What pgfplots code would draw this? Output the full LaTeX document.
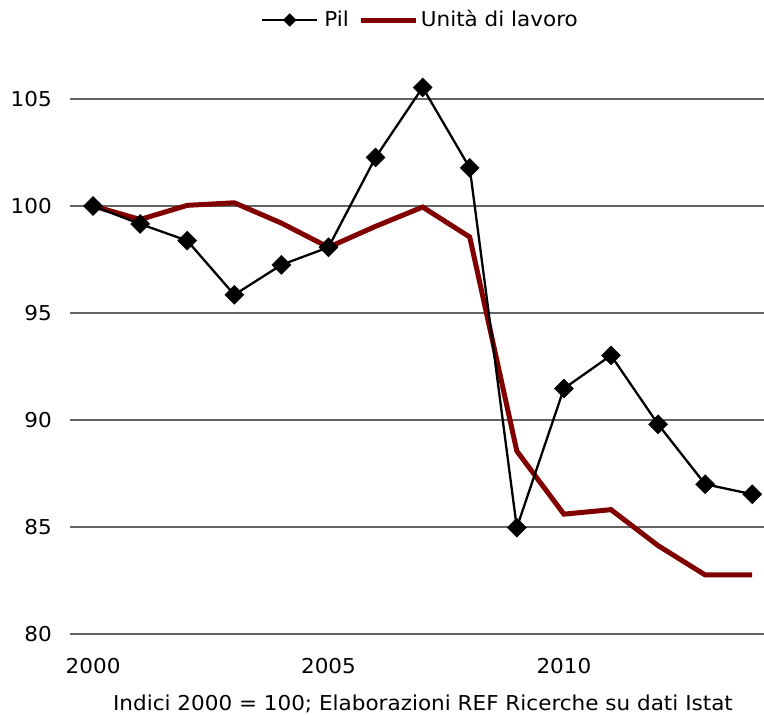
\documentclass[border=0pt]{standalone}
\usepackage{fontspec}
\setmainfont{DejaVu Sans}[FakeStretch=1.05]
\usepackage{pgfplots}
\pgfplotsset{compat=1.18}
\definecolor{lavoro}{RGB}{128,0,0}
\definecolor{gridc}{RGB}{100,100,100}
\begin{document}
\fontsize{20.5}{24}\selectfont
\begin{tikzpicture}
\useasboundingbox (0,0) rectangle (764pt,715pt);
\begin{axis}[
  at={(70pt,81pt)}, anchor=south west,
  scale only axis, width=694pt, height=588.5pt,
  xmin=1999.51, xmax=2014.25, ymin=80, ymax=107.5,
  axis line style={draw=none},
  major tick length=0pt,
  xtick={2000,2005,2010}, xticklabels={2000,2005,2010},
  ytick={80,85,90,95,100,105},
  ymajorgrids, grid style={gridc, line width=1.2pt},
  /pgf/number format/assume math mode=true,
  tick label style={font=\fontsize{20.5}{24}\selectfont},
  x tick label style={anchor=north, inner sep=0pt, yshift=-24.5pt},
  y tick label style={anchor=east, inner sep=0pt, xshift=-18pt},
  legend columns=2, reverse legend,
  legend style={at={(axis description cs:0.5036,1.0433)}, anchor=center, draw=none, fill=none, inner sep=0pt, nodes={inner sep=0pt}, font=\fontsize{20.5}{24}\selectfont},
  legend image code/.code={\draw[mark repeat=2,mark phase=2,#1,mark size=4.5pt] plot coordinates {(0pt,0pt) (27.5pt,0pt) (55pt,0pt)};},
]
\addplot[lavoro, line width=5pt] coordinates {
(2000,100) (2001,99.37) (2002,100.03) (2003,100.15) (2004,99.2) (2005,98.07) (2006,99.05) (2007,99.95) (2008,98.55) (2009,88.55) (2010,85.6) (2011,85.81) (2012,84.13) (2013,82.76) (2014,82.76)};
\addlegendentry{\hspace*{2pt}Unità di lavoro}
\addplot[black, line width=2.3pt, mark=square*, mark size=6.7pt, mark options={rotate=45, solid, fill=black, line width=0.5pt}] coordinates {
(2000,100) (2001,99.16) (2002,98.38) (2003,95.85) (2004,97.25) (2005,98.07) (2006,102.27) (2007,105.54) (2008,101.78) (2009,84.97) (2010,91.47) (2011,93.02) (2012,89.8) (2013,87.0) (2014,86.53)};
\addlegendentry{\hspace*{6pt}Pil\hspace*{10pt}}
\end{axis}
\node[anchor=base, inner sep=0pt] at (423pt,4.5pt) {Indici 2000 = 100; Elaborazioni REF Ricerche su dati Istat};
\end{tikzpicture}
\end{document}
